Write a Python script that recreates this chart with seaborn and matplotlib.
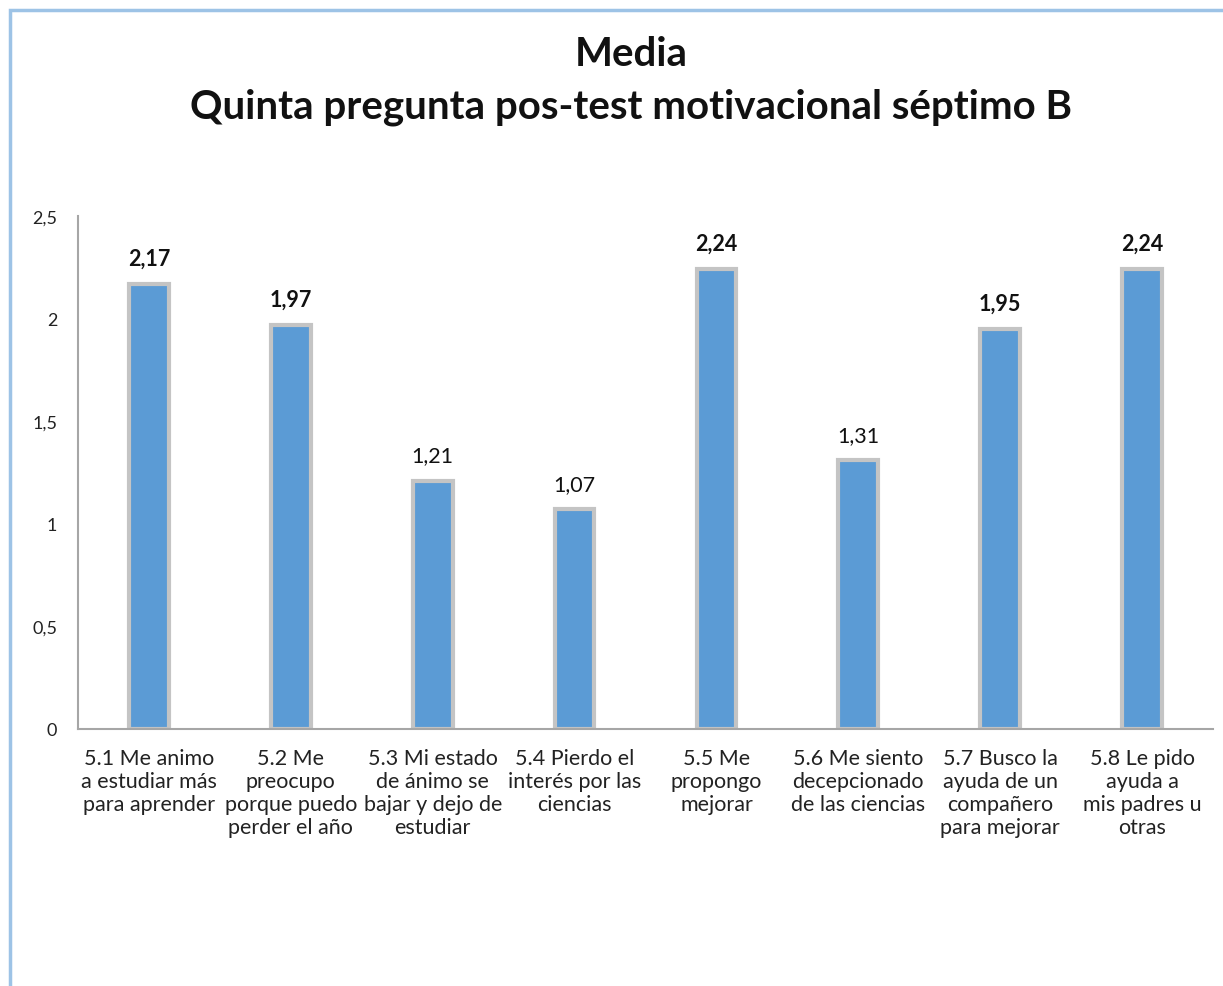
import matplotlib
matplotlib.use("Agg")
import matplotlib.pyplot as plt
import seaborn as sns
import pandas as pd
from matplotlib.patches import Rectangle
from matplotlib.ticker import FixedLocator, FixedFormatter

categories = [
    "5.1 Me animo\na estudiar más\npara aprender",
    "5.2 Me\npreocupo\nporque puedo\nperder el año",
    "5.3 Mi estado\nde ánimo se\nbajar y dejo de\nestudiar",
    "5.4 Pierdo el\ninterés por las\nciencias",
    "5.5 Me\npropongo\nmejorar",
    "5.6 Me siento\ndecepcionado\nde las ciencias",
    "5.7 Busco la\nayuda de un\ncompañero\npara mejorar",
    "5.8 Le pido\nayuda a\nmis padres u\notras",
]
values = [2.17, 1.97, 1.21, 1.07, 2.24, 1.31, 1.95, 2.24]
value_labels = ["2,17", "1,97", "1,21", "1,07", "2,24", "1,31", "1,95", "2,24"]
label_bold = [True, True, False, False, True, False, True, True]
yticks = [0, 0.5, 1, 1.5, 2, 2.5]
ytick_labels = ["0", "0,5", "1", "1,5", "2", "2,5"]
title_lines = ["Media", "Quinta pregunta pos-test motivacional séptimo B"]

sns.set_theme(style="white")
plt.rcParams["font.family"] = ["Lato", "DejaVu Sans"]

fig = plt.figure(figsize=(12.23, 9.87), dpi=100)
ax = fig.add_axes([78 / 1223, 1 - 730 / 987, (1213 - 78) / 1223, (730 - 217) / 987])

df = pd.DataFrame({"cat": categories, "val": values})
sns.barplot(data=df, x="cat", y="val", color="#5B9BD5", saturation=1,
            width=0.28, edgecolor="#c4c4c4", linewidth=3, ax=ax)

ax.set_ylim(0, 2.5)
ax.yaxis.set_major_locator(FixedLocator(yticks))
ax.yaxis.set_major_formatter(FixedFormatter(ytick_labels))
ax.set_xlabel("")
ax.set_ylabel("")
ax.tick_params(axis="y", length=0, pad=15, labelsize=13, colors="#222222")
ax.tick_params(axis="x", length=0, pad=14, labelsize=15.5, colors="#222222")
for t in ax.get_xticklabels():
    t.set_linespacing(1.17)

for s in ["top", "right"]:
    ax.spines[s].set_visible(False)
for s in ["left", "bottom"]:
    ax.spines[s].set_color("#a6a6a6")
    ax.spines[s].set_linewidth(1.5)

for i, (v, lab, b) in enumerate(zip(values, value_labels, label_bold)):
    ax.annotate(lab, xy=(i, v), xytext=(0, 11), textcoords="offset points",
                ha="center", va="bottom", fontsize=15.5,
                fontweight="bold" if b else "normal", color="#111111")

fig.text(0.516, 1 - 55 / 987, title_lines[0], ha="center", va="center",
         fontsize=29, fontweight="bold", color="#111111")
fig.text(0.516, 1 - 107 / 987, title_lines[1], ha="center", va="center",
         fontsize=29, fontweight="bold", color="#111111")

fig.patches.append(Rectangle((10 / 1223, -0.1), 1.2, 1 - 11 / 987 + 0.1,
                             transform=fig.transFigure, fill=False,
                             edgecolor="#9dc3e6", linewidth=2.5))

fig.savefig("out.png", dpi=100)
